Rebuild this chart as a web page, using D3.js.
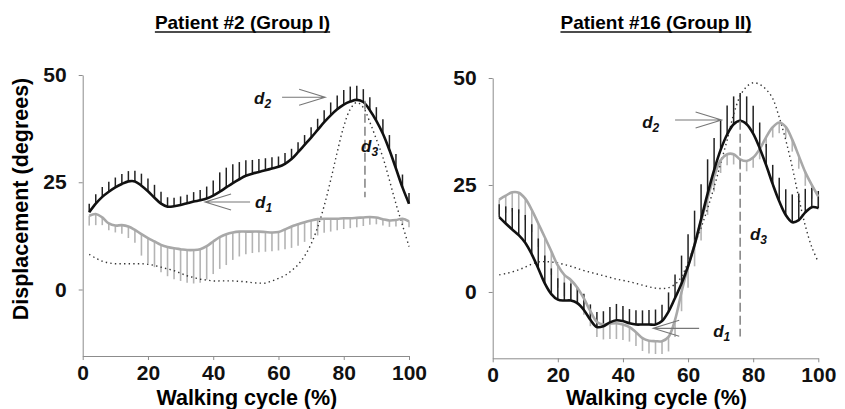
<!DOCTYPE html>
<html>
<head>
<meta charset="utf-8">
<script src="https://d3js.org/d3.v7.min.js"></script>
<style>
  body { margin: 0; background: #fff; }
  svg { font-family: "Liberation Sans", Arial, sans-serif; }
  .axis path, .axis line { stroke: #8c8c8c; }
  .axis text { font-size: 21px; font-weight: bold; fill: #111; font-family: "Liberation Sans", Arial, sans-serif; }
  .title { font-size: 19px; font-weight: bold; }
  .axis-label { font-size: 21.5px; font-weight: bold; }
  .dlabel { font-size: 17px; font-weight: bold; font-style: italic; fill: #111; }
  .dlabel tspan.sub { font-size: 12px; }
</style>
</head>
<body>
<svg id="chart" width="845" height="409"></svg>
<script>
// walking cycle (%) at which each sample is taken
const cycle = [2, 4, 6, 8, 10, 12, 14, 16, 18, 20, 22, 24, 26, 28, 30, 32, 34, 36, 38, 40,
  42, 44, 46, 48, 50, 52, 54, 56, 58, 60, 62, 64, 66, 68, 70, 72, 74, 76, 78, 80,
  82, 84, 86, 88, 90, 92, 94, 96, 98, 100];

const xTicks = [0, 20, 40, 60, 80, 100];
const yTicks = [0, 25, 50];

// Patient #2 (Group I)
const p2Black = [18.0, 20.0, 21.6, 22.8, 23.8, 24.6, 25.2, 25.2, 24.2, 22.9, 21.4, 20.0, 19.3, 19.4, 19.7, 20.1, 20.5, 20.8, 21.2, 21.9,
  22.8, 23.8, 24.8, 25.7, 26.5, 27.0, 27.4, 27.8, 28.2, 28.6, 29.3, 30.4, 32.0, 33.7, 35.4, 37.2, 39.0, 40.6, 42.0, 43.1,
  43.8, 44.2, 43.7, 41.8, 39.3, 36.3, 32.5, 28.2, 23.8, 20.0];
const p2BlackSd = [2.0, 2.2, 2.3, 2.3, 2.3, 2.3, 2.4, 2.5, 2.8, 3.0, 3.0, 2.8, 2.2, 2.0, 2.0, 2.0, 2.2, 2.4, 2.8, 3.5,
  4.5, 4.6, 4.4, 4.0, 3.6, 3.2, 3.0, 2.8, 2.6, 2.4, 2.5, 2.4, 2.3, 2.3, 2.4, 2.6, 2.8, 3.0, 3.2, 3.4,
  3.5, 3.3, 3.0, 3.0, 3.2, 3.4, 3.5, 3.4, 3.0, 2.5];
const p2Gray = [17.2, 17.6, 16.8, 15.4, 14.9, 15.0, 14.7, 13.9, 12.9, 12.0, 11.2, 10.4, 9.9, 9.6, 9.4, 9.2, 9.2, 9.4, 10.1, 11.2,
  12.2, 12.9, 13.3, 13.5, 13.5, 13.5, 13.5, 13.4, 13.3, 13.4, 14.0, 14.7, 15.2, 15.7, 16.1, 16.4, 16.5, 16.5, 16.5, 16.6,
  16.6, 16.7, 16.8, 16.9, 16.8, 16.4, 16.1, 16.2, 16.5, 15.9];
const p2GraySd = [2.3, 2.6, 1.8, 1.6, 1.6, 2.0, 2.7, 3.0, 5.0, 5.8, 6.0, 6.4, 6.8, 7.2, 7.4, 7.6, 7.8, 7.8, 7.8, 7.6,
  7.4, 7.2, 6.4, 5.8, 5.3, 5.0, 4.8, 4.6, 4.4, 4.3, 4.6, 5.0, 5.0, 4.6, 4.3, 3.8, 3.3, 3.0, 2.7, 2.5,
  2.3, 2.2, 2.0, 1.8, 1.6, 1.5, 1.5, 1.5, 1.5, 1.4];
const p2Normal = [8.2, 7.3, 6.6, 6.2, 6.0, 6.0, 6.0, 6.0, 6.0, 5.9, 5.6, 5.2, 4.8, 4.4, 3.8, 3.2, 2.8, 2.4, 2.2, 2.0,
  2.0, 2.0, 2.0, 1.9, 1.8, 1.6, 1.5, 1.5, 2.0, 2.6, 3.3, 4.4, 5.8, 7.8, 10.6, 14.5, 19.5, 25.5, 32.0, 38.0,
  42.0, 43.6, 42.4, 39.0, 35.0, 30.8, 25.5, 20.0, 15.0, 10.0];

// Patient #16 (Group II)
const p16Black = [17.5, 16.0, 14.6, 13.3, 11.5, 8.8, 5.5, 2.0, -0.5, -1.8, -2.0, -2.0, -2.6, -4.2, -6.5, -8.2, -8.0, -7.1, -6.6, -6.8,
  -7.3, -7.6, -7.6, -7.6, -7.6, -6.8, -4.6, -1.4, 2.0, 6.0, 11.0, 17.0, 23.0, 28.5, 33.2, 36.8, 39.2, 40.0, 39.2, 37.0,
  33.6, 29.6, 25.2, 21.2, 18.0, 16.3, 16.8, 18.6, 19.8, 19.6];
const p16BlackSd = [3.0, 4.0, 5.0, 6.0, 6.5, 7.0, 7.0, 6.5, 6.0, 5.0, 4.2, 4.0, 3.8, 3.8, 3.6, 3.5, 3.5, 3.6, 3.8, 3.5,
  3.3, 3.3, 3.3, 3.4, 3.5, 3.8, 4.5, 5.5, 6.5, 7.5, 8.0, 8.2, 8.0, 7.5, 7.0, 6.8, 6.5, 6.5, 6.5, 6.5,
  6.0, 5.0, 4.5, 5.5, 6.0, 6.5, 6.2, 5.5, 4.5, 4.0];
const p16Gray = [21.6, 22.5, 23.3, 23.2, 21.8, 19.2, 16.0, 12.8, 9.5, 6.2, 4.0, 2.8, 1.0, -1.5, -4.5, -7.0, -7.6, -7.4, -7.3, -7.6,
  -8.2, -9.4, -10.8, -11.4, -11.5, -11.5, -10.5, -6.5, 0.0, 6.0, 11.0, 16.5, 22.0, 27.0, 30.8, 32.2, 32.2, 31.0, 30.6, 31.4,
  33.4, 36.2, 38.5, 39.6, 38.6, 35.6, 31.8, 28.0, 25.0, 22.3];
const p16GraySd = [3.5, 4.0, 4.5, 4.8, 5.0, 5.2, 5.5, 5.5, 5.5, 5.2, 5.0, 4.5, 4.0, 3.8, 3.5, 3.5, 3.5, 3.6, 3.7, 3.6,
  3.4, 3.2, 3.0, 3.0, 3.0, 3.0, 3.4, 4.0, 4.5, 5.0, 5.0, 4.5, 4.0, 3.5, 3.0, 2.6, 2.4, 2.4, 2.4, 2.4,
  2.4, 2.4, 2.4, 2.5, 2.6, 2.8, 3.0, 3.2, 3.2, 3.0];
const p16Normal = [4.0, 4.3, 4.7, 5.2, 5.8, 6.5, 7.0, 7.1, 7.0, 6.8, 6.4, 6.0, 5.5, 5.0, 4.6, 4.2, 3.8, 3.4, 3.0, 2.7,
  2.4, 2.0, 1.6, 1.2, 0.9, 0.8, 1.0, 1.8, 3.6, 7.0, 11.0, 15.0, 19.5, 24.5, 30.0, 35.5, 41.5, 45.8, 48.0, 48.9,
  48.5, 47.3, 45.2, 40.8, 35.5, 29.2, 22.0, 15.5, 10.5, 7.0];

// annotations in data units: arrows point along a horizontal line, d3 is a vertical dashed line
const p2Notes = {
  arrows: [{ label: "2", from: 61.1, to: 74.3, y: 44.8, lx: 52.5, ly: 43.2 },
           { label: "1", from: 51.3, to: 37.5, y: 20.4, lx: 52.8, ly: 19.0 }],
  dash: { x: 86.5, y0: 44.0, y1: 21.5, lx: 85.3, ly: 32.0 }
};
const p16Notes = {
  arrows: [{ label: "2", from: 56.0, to: 70.3, y: 40.2, lx: 45.9, ly: 38.3 },
           { label: "1", from: 63.4, to: 49.3, y: -8.5, lx: 67.7, ly: -10.5 }],
  dash: { x: 76.0, y0: 40.0, y1: -10.4, lx: 79.0, ly: 12.1 }
};

const svg = d3.select("svg#chart");

const panels = [
  { title: "Patient #2 (Group I)", titleX: 242.5, left: 82.7, right: 409, top: 75, bottom: 356,
    black: p2Black, blackSd: p2BlackSd, gray: p2Gray, graySd: p2GraySd, normal: p2Normal, notes: p2Notes, yLabel: true },
  { title: "Patient #16 (Group II)", titleX: 656, left: 492.7, right: 818.3, top: 78, bottom: 358.3,
    black: p16Black, blackSd: p16BlackSd, gray: p16Gray, graySd: p16GraySd, normal: p16Normal, notes: p16Notes, yLabel: false }
];

function drawPanel(p) {
  const x = d3.scaleLinear().domain([0, 100]).range([p.left, p.right]);
  const y = d3.scaleLinear().domain([-15.5, 50]).range([p.bottom, p.top]);
  const g = svg.append("g");

  // axes
  g.append("g").attr("class", "axis")
    .attr("transform", "translate(" + p.left + ",0)")
    .call(d3.axisLeft(y).tickValues(yTicks).tickSize(4).tickSizeOuter(0).tickPadding(12));
  g.append("g").attr("class", "axis")
    .attr("transform", "translate(0," + p.bottom + ")")
    .call(d3.axisBottom(x).tickValues(xTicks).tickSize(4).tickSizeOuter(0).tickPadding(5));

  // gray SD hatches go down, black SD hatches go up
  g.append("g").selectAll("line").data(cycle).join("line")
    .attr("x1", d => x(d)).attr("x2", d => x(d))
    .attr("y1", (d, i) => y(p.gray[i])).attr("y2", (d, i) => y(p.gray[i] - p.graySd[i]))
    .attr("stroke", "#b4b4b4").attr("stroke-width", 1.6);
  g.append("g").selectAll("line").data(cycle).join("line")
    .attr("x1", d => x(d)).attr("x2", d => x(d))
    .attr("y1", (d, i) => y(p.black[i])).attr("y2", (d, i) => y(p.black[i] + p.blackSd[i]))
    .attr("stroke", "#222").attr("stroke-width", 1.5);

  const line = d3.line().x((d, i) => x(cycle[i])).y(d => y(d)).curve(d3.curveCatmullRom);

  g.append("path").attr("d", line(p.normal))
    .attr("fill", "none").attr("stroke", "#333").attr("stroke-width", 1.4)
    .attr("stroke-dasharray", "1.4,3.2");
  g.append("path").attr("d", line(p.gray))
    .attr("fill", "none").attr("stroke", "#a8a8a8").attr("stroke-width", 2.6);
  g.append("path").attr("d", line(p.black))
    .attr("fill", "none").attr("stroke", "#111").attr("stroke-width", 2.6);

  // annotations
  const n = p.notes;
  g.append("line")
    .attr("x1", x(n.dash.x)).attr("x2", x(n.dash.x))
    .attr("y1", y(n.dash.y0)).attr("y2", y(n.dash.y1))
    .attr("stroke", "#888").attr("stroke-width", 1.6).attr("stroke-dasharray", "9,4");
  addLabel(g, x(n.dash.lx), y(n.dash.ly), "3");

  n.arrows.forEach(a => {
    const tip = x(a.to), start = x(a.from), yy = y(a.y);
    const back = tip + (a.to > a.from ? -26 : 26);
    g.append("path")
      .attr("d", "M" + start + "," + yy + "L" + tip + "," + yy +
        "M" + back + "," + (yy - 8) + "L" + tip + "," + yy + "L" + back + "," + (yy + 8))
      .attr("fill", "none").attr("stroke", "#777").attr("stroke-width", 1.1);
    addLabel(g, x(a.lx), y(a.ly), a.label);
  });

  // title with underline
  const t = svg.append("text").attr("class", "title")
    .attr("x", p.titleX).attr("y", 29).attr("text-anchor", "middle").text(p.title);
  const len = t.node().getComputedTextLength();
  svg.append("line")
    .attr("x1", p.titleX - len / 2).attr("x2", p.titleX + len / 2)
    .attr("y1", 32).attr("y2", 32).attr("stroke", "#111").attr("stroke-width", 1.4);

  svg.append("text").attr("class", "axis-label")
    .attr("x", (p.left + p.right) / 2 + 1).attr("y", 405)
    .attr("text-anchor", "middle").text("Walking cycle (%)");

  if (p.yLabel) {
    svg.append("text").attr("class", "axis-label")
      .attr("transform", "translate(28,199) rotate(-90)")
      .attr("text-anchor", "middle").text("Displacement (degrees)");
  }
}

function addLabel(g, px, py, sub) {
  const t = g.append("text").attr("class", "dlabel").attr("x", px).attr("y", py);
  t.append("tspan").text("d");
  t.append("tspan").attr("class", "sub").attr("dy", 4).text(sub);
}

panels.forEach(drawPanel);
</script>
</body>
</html>
